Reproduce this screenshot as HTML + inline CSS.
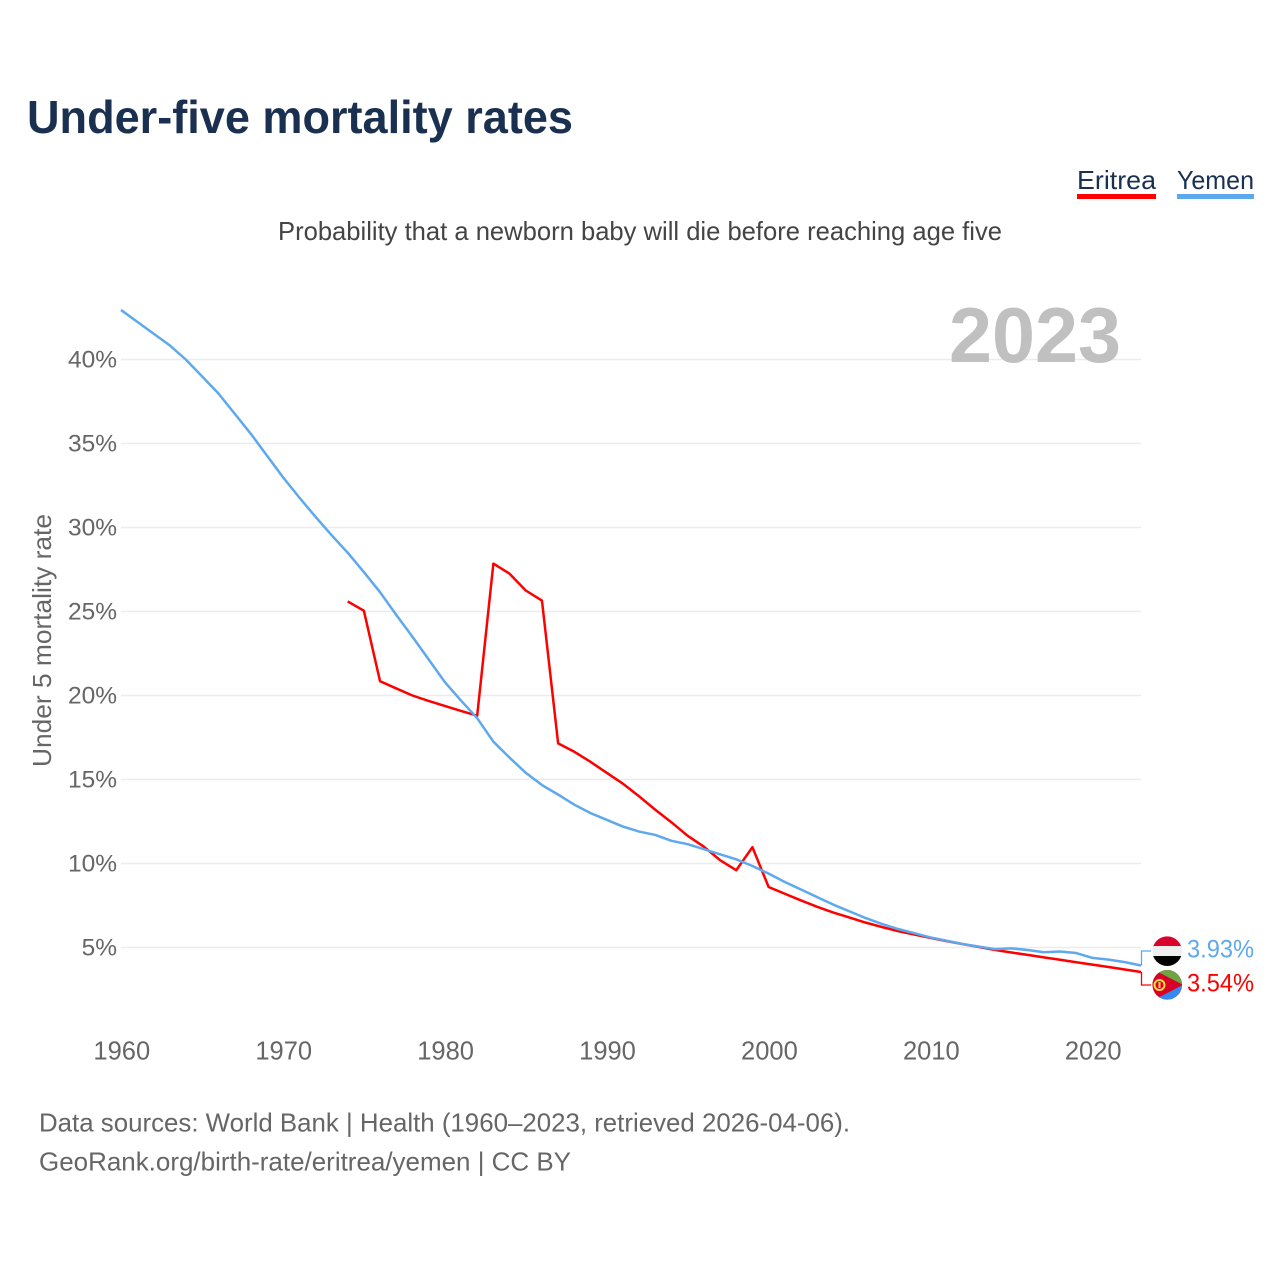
<!DOCTYPE html>
<html lang="en">
<head>
<meta charset="utf-8">
<title>Under-five mortality rates</title>
<style>
  html, body { margin: 0; padding: 0; background: #fff; }
  svg { display: block; font-family: "Liberation Sans", sans-serif; }
</style>
</head>
<body>
<svg id="chart" xmlns="http://www.w3.org/2000/svg" width="1280" height="1280" viewBox="0 0 1280 1280">
  <defs>
    <clipPath id="flag-clip-ye"><circle cx="1167.2" cy="951.2" r="14.8"/></clipPath>
    <clipPath id="flag-clip-er"><circle cx="1167.2" cy="984.8" r="14.8"/></clipPath>
  </defs>
  <rect x="0" y="0" width="1280" height="1280" fill="#fff"/>

  <text x="27" y="133" font-size="46" font-weight="700" fill="#1a3050" textLength="546" lengthAdjust="spacingAndGlyphs">Under-five mortality rates</text>

  <g>
    <g>
      <text x="1077" y="189" font-size="26" fill="#1a3050" textLength="79" lengthAdjust="spacingAndGlyphs">Eritrea</text>
      <rect x="1077" y="194" width="79" height="5" fill="#ff0000"/>
    </g>
    <g>
      <text x="1177" y="189" font-size="26" fill="#1a3050" textLength="77" lengthAdjust="spacingAndGlyphs">Yemen</text>
      <rect x="1177" y="194" width="77" height="5" fill="#5ea8ee"/>
    </g>
  </g>

  <text x="278" y="240" font-size="26" fill="#444" textLength="724" lengthAdjust="spacingAndGlyphs">Probability that a newborn baby will die before reaching age five</text>

  <g id="grid"></g>

  <text x="949" y="362" font-size="78" font-weight="700" fill="#c0c0c0" textLength="172" lengthAdjust="spacingAndGlyphs">2023</text>

  <g id="y-axis"></g>
  <g id="x-axis"></g>

  <text transform="translate(51 767) rotate(-90)" x="0" y="0" font-size="26" fill="#666" textLength="253" lengthAdjust="spacingAndGlyphs">Under 5 mortality rate</text>

  <g id="series"></g>

  <g clip-path="url(#flag-clip-ye)">
    <rect x="1152" y="936" width="31" height="11" fill="#d9042b"/>
    <rect x="1152" y="946" width="31" height="11" fill="#eeeeee"/>
    <rect x="1152" y="956" width="31" height="11" fill="#000000"/>
  </g>
  <g clip-path="url(#flag-clip-er)">
    <rect x="1152" y="969" width="31" height="32" fill="#d80027"/>
    <polygon points="1152,969 1183,969 1183,984.8 1152,969" fill="#6da544"/>
    <polygon points="1152,1001 1183,1001 1183,984.8 1152,1001" fill="#338af3"/>
    <circle cx="1159.5" cy="985" r="5" fill="none" stroke="#ffda44" stroke-width="2"/>
    <rect x="1158.5" y="982" width="2" height="6" fill="#ffda44"/>
  </g>

  <g id="end-labels"></g>

  <text x="39" y="1131.5" font-size="26" fill="#666" textLength="811" lengthAdjust="spacingAndGlyphs">Data sources: World Bank | Health (1960–2023, retrieved 2026-04-06).</text>
  <text x="39" y="1170.5" font-size="26" fill="#666" textLength="532" lengthAdjust="spacingAndGlyphs">GeoRank.org/birth-rate/eritrea/yemen | CC BY</text>
</svg>

<script>
const yemenYears = [1960,1961,1962,1963,1964,1965,1966,1967,1968,1969,1970,1971,1972,1973,1974,1975,1976,1977,1978,1979,1980,1981,1982,1983,1984,1985,1986,1987,1988,1989,1990,1991,1992,1993,1994,1995,1996,1997,1998,1999,2000,2001,2002,2003,2004,2005,2006,2007,2008,2009,2010,2011,2012,2013,2014,2015,2016,2017,2018,2019,2020,2021,2022,2023];
const yemenValues = [42.95,42.25,41.55,40.85,40.0,39.0,38.0,36.8,35.6,34.3,33.0,31.8,30.65,29.55,28.5,27.35,26.15,24.8,23.5,22.15,20.8,19.7,18.65,17.25,16.3,15.4,14.67,14.1,13.5,13.0,12.6,12.2,11.9,11.7,11.35,11.15,10.85,10.55,10.25,9.85,9.4,8.9,8.45,8.0,7.55,7.15,6.75,6.4,6.1,5.85,5.6,5.4,5.2,5.05,4.9,4.95,4.85,4.72,4.76,4.67,4.38,4.28,4.13,3.93];
const eritreaYears = [1974,1975,1976,1977,1978,1979,1980,1981,1982,1983,1984,1985,1986,1987,1988,1989,1990,1991,1992,1993,1994,1995,1996,1997,1998,1999,2000,2001,2002,2003,2004,2005,2006,2007,2008,2009,2010,2011,2012,2013,2014,2015,2016,2017,2018,2019,2020,2021,2022,2023];
const eritreaValues = [25.6,25.05,20.85,20.42,20.0,19.68,19.38,19.08,18.8,27.85,27.25,26.25,25.65,17.15,16.65,16.05,15.4,14.75,14.0,13.2,12.45,11.65,11.0,10.2,9.6,10.97,8.6,8.2,7.8,7.42,7.08,6.78,6.48,6.22,5.97,5.77,5.57,5.38,5.2,5.03,4.85,4.7,4.56,4.41,4.27,4.12,3.98,3.84,3.69,3.54];
const yTicks = [5,10,15,20,25,30,35,40];
const xTicks = [1960,1970,1980,1990,2000,2010,2020];

const NS = 'http://www.w3.org/2000/svg';
function xScale(year) { return 121 + (year - 1960) * (1141 - 121) / 63; }
function yScale(v) { return 1031.5 - v * 16.8; }
function make(tag, parent) {
  const el = document.createElementNS(NS, tag);
  parent.appendChild(el);
  return el;
}
function linePath(years, values) {
  return years.map(function (yr, i) {
    return (i ? 'L' : 'M') + xScale(yr).toFixed(2) + ' ' + yScale(values[i]).toFixed(2);
  }).join(' ');
}

const gridG = document.getElementById('grid');
const yAxisG = document.getElementById('y-axis');
const xAxisG = document.getElementById('x-axis');
const seriesG = document.getElementById('series');
const endG = document.getElementById('end-labels');

yTicks.forEach(function (t) {
  const line = make('line', gridG);
  
  
  line.setAttribute('x1', 121);
  line.setAttribute('x2', 1141);
  line.setAttribute('y1', yScale(t));
  line.setAttribute('y2', yScale(t));
  line.setAttribute('stroke', '#ececec');
  line.setAttribute('stroke-width', '1.5');

  const label = make('text', yAxisG);
  
  
  label.setAttribute('x', 117);
  label.setAttribute('y', yScale(t) + 8);
  label.setAttribute('text-anchor', 'end');
  label.setAttribute('font-size', '24.5');
  label.setAttribute('fill', '#666');
  label.textContent = t + '%';
});

xTicks.forEach(function (t) {
  const label = make('text', xAxisG);
  
  
  label.setAttribute('x', xScale(t) + 0.8);
  label.setAttribute('y', 1059.5);
  label.setAttribute('text-anchor', 'middle');
  label.setAttribute('font-size', '25.5');
  label.setAttribute('fill', '#666');
  label.textContent = String(t);
});

const eritreaLine = make('path', seriesG);


eritreaLine.setAttribute('d', linePath(eritreaYears, eritreaValues));
eritreaLine.setAttribute('fill', 'none');
eritreaLine.setAttribute('stroke', '#ff0000');
eritreaLine.setAttribute('stroke-width', '2.5');
eritreaLine.setAttribute('stroke-linejoin', 'round');

const yemenLine = make('path', seriesG);


yemenLine.setAttribute('d', linePath(yemenYears, yemenValues));
yemenLine.setAttribute('fill', 'none');
yemenLine.setAttribute('stroke', '#5ea8ee');
yemenLine.setAttribute('stroke-width', '2.5');
yemenLine.setAttribute('stroke-linejoin', 'round');

const lastYemen = yemenValues[yemenValues.length - 1];
const lastEritrea = eritreaValues[eritreaValues.length - 1];

const yemenConnector = make('path', endG);


yemenConnector.setAttribute('d', 'M1141.5 ' + yScale(lastYemen).toFixed(2) + ' V951 H1151');
yemenConnector.setAttribute('fill', 'none');
yemenConnector.setAttribute('stroke', '#5ea8ee');
yemenConnector.setAttribute('stroke-width', '1.3');

const eritreaConnector = make('path', endG);


eritreaConnector.setAttribute('d', 'M1141.5 ' + yScale(lastEritrea).toFixed(2) + ' V985 H1151');
eritreaConnector.setAttribute('fill', 'none');
eritreaConnector.setAttribute('stroke', '#ff0000');
eritreaConnector.setAttribute('stroke-width', '1.3');

const yemenValueLabel = make('text', endG);


yemenValueLabel.setAttribute('x', 1187);
yemenValueLabel.setAttribute('y', 957.5);
yemenValueLabel.setAttribute('font-size', '25');
yemenValueLabel.setAttribute('fill', '#5ea8ee');
yemenValueLabel.setAttribute('textLength', '67');
yemenValueLabel.setAttribute('lengthAdjust', 'spacingAndGlyphs');
yemenValueLabel.textContent = lastYemen.toFixed(2) + '%';

const eritreaValueLabel = make('text', endG);


eritreaValueLabel.setAttribute('x', 1187);
eritreaValueLabel.setAttribute('y', 991.5);
eritreaValueLabel.setAttribute('font-size', '25');
eritreaValueLabel.setAttribute('fill', '#ff0000');
eritreaValueLabel.setAttribute('textLength', '67');
eritreaValueLabel.setAttribute('lengthAdjust', 'spacingAndGlyphs');
eritreaValueLabel.textContent = lastEritrea.toFixed(2) + '%';
</script>
</body>
</html>
